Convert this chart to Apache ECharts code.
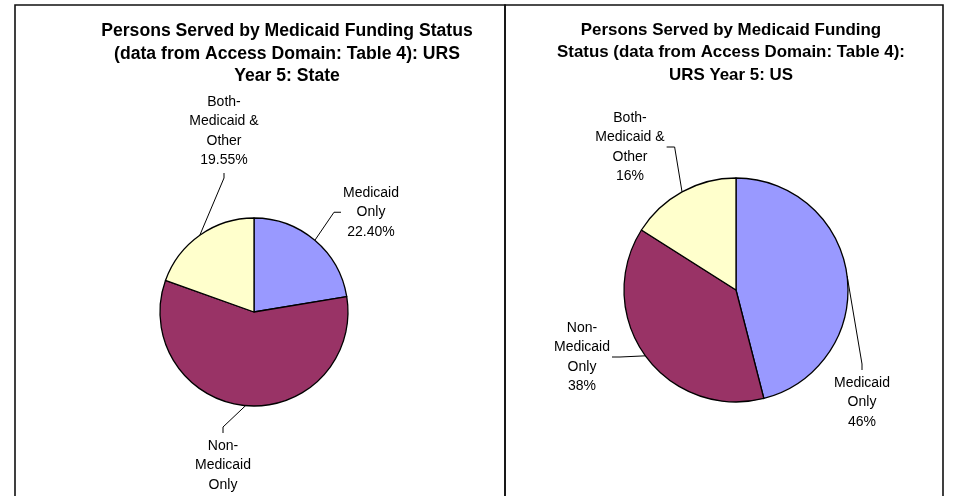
<!DOCTYPE html>
<html>
<head>
<meta charset="utf-8">
<script src="https://cdn.jsdelivr.net/npm/echarts@6/dist/echarts.min.js"></script>
<style>
  html, body { margin: 0; padding: 0; background: #fff; }
  #chart { width: 954px; height: 496px; }
</style>
</head>
<body>
<div id="chart"></div>
<script>
// categories and values
const categories = ['Medicaid Only', 'Non-Medicaid Only', 'Both-Medicaid & Other'];
const labelNames = ['Medicaid\nOnly', 'Non-\nMedicaid\nOnly', 'Both-\nMedicaid &\nOther'];
const stateValues = [22.40, 58.05, 19.55];
const stateLabels = ['22.40%', '', '19.55%'];
const usValues = [46, 38, 16];
const usLabels = ['46%', '38%', '16%'];
const colors = ['#9999FF', '#993366', '#FFFFCC'];

// label placement: centre x, top y, and which side the leader line joins
const stateLabelPos = [[371, 183, 'left'], [223, 436, 'top'], [224, 92, 'bottom']];
const usLabelPos = [[862, 373, 'top'], [582, 318, 'right'], [630, 108, 'right']];

function buildData(values, pct) {
  return values.map((v, i) => ({
    name: categories[i],
    value: v,
    label: { formatter: pct[i] ? labelNames[i] + '\n' + pct[i] : labelNames[i] }
  }));
}

function pieSeries(values, pct, center, radius, pos) {
  return {
    type: 'pie',
    center: center,
    radius: radius,
    startAngle: 90,
    clockwise: true,
    animation: false,
    silent: true,
    data: buildData(values, pct),
    itemStyle: { borderColor: '#000', borderWidth: 1.3 },
    label: {
      show: true,
      position: 'outside',
      color: '#000',
      fontFamily: 'Liberation Sans, Arial, sans-serif',
      fontSize: 14,
      lineHeight: 19.5,
      align: 'center'
    },
    labelLine: {
      show: true,
      length: 10,
      length2: 6,
      lineStyle: { color: '#000', width: 1 }
    },
    labelLayout: function (params) {
      const p = pos[params.dataIndex];
      const w = params.labelRect.width;
      const h = params.labelRect.height;
      // start of the leader stays where the library put it (slice mid-angle on the rim)
      const anchor = params.labelLinePoints ? params.labelLinePoints[0] : [p[0], p[1]];
      let end, elbow;
      if (p[2] === 'left') {
        end = [p[0] - w / 2 - 2, p[1] + h / 2];
        elbow = [end[0] - 7, end[1]];
      } else if (p[2] === 'right') {
        end = [p[0] + w / 2 + 2, p[1] + h / 2];
        elbow = [end[0] + 8, end[1]];
      } else if (p[2] === 'top') {
        end = [p[0], p[1] - 3];
        elbow = [end[0], end[1] - 6];
      } else {
        end = [p[0], p[1] + h + 3];
        elbow = [end[0], end[1] + 5];
      }
      return {
        x: p[0], y: p[1], align: 'center', verticalAlign: 'top',
        labelLinePoints: [anchor, elbow, end]
      };
    }
  };
}

const chart = echarts.init(document.getElementById('chart'));
function titleStyle(size) {
  return {
    fontFamily: 'Liberation Sans, Arial, sans-serif',
    fontSize: size,
    fontWeight: 'bold',
    color: '#000',
    lineHeight: 22.5,
    align: 'center'
  };
}

const option = {
  color: colors,
  title: [
    {
      text: 'Persons Served by Medicaid Funding Status\n(data from Access Domain: Table 4): URS\nYear 5: State',
      left: 282, top: 15, textAlign: 'center',
      textStyle: titleStyle(17.6)
    },
    {
      text: 'Persons Served by Medicaid Funding\nStatus (data from Access Domain: Table 4):\nURS Year 5: US',
      left: 726, top: 14, textAlign: 'center',
      textStyle: titleStyle(16.9)
    }
  ],
  graphic: [
    { type: 'rect', shape: { x: 15, y: 5, width: 490, height: 600 }, style: { fill: 'none', stroke: '#111', lineWidth: 1.6 }, silent: true },
    { type: 'rect', shape: { x: 505, y: 5, width: 438, height: 600 }, style: { fill: 'none', stroke: '#111', lineWidth: 1.6 }, silent: true }
  ],
  series: [
    pieSeries(stateValues, stateLabels, [254, 312], 94, stateLabelPos),
    pieSeries(usValues, usLabels, [736, 290], 112, usLabelPos)
  ]
};
chart.setOption(option);
</script>
</body>
</html>
